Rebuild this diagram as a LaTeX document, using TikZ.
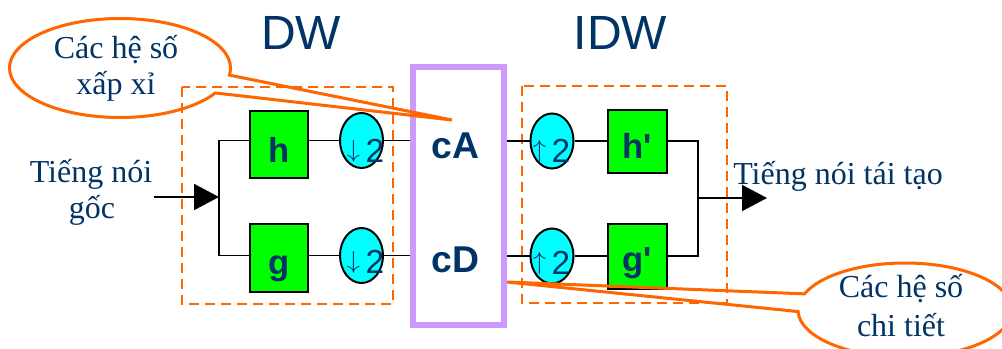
\documentclass[tikz,border=0pt]{standalone}
\usepackage{fontspec}
\usepackage{graphicx}
\setmainfont{Liberation Serif}
\setsansfont{Liberation Sans}
\usetikzlibrary{arrows.meta,shapes.geometric,shapes.callouts}
\definecolor{navy}{HTML}{003366}
\definecolor{fgreen}{HTML}{00FF00}
\definecolor{fcyan}{HTML}{00FFFF}
\definecolor{orng}{HTML}{FF6600}
\definecolor{lilac}{HTML}{CC99FF}
\newcommand{\dnarrow}{\raisebox{3.6pt}{\resizebox*{10pt}{16.5pt}{$\downarrow$}}}
\newcommand{\uparr}{\raisebox{3.6pt}{\resizebox*{10pt}{16.5pt}{$\uparrow$}}}
\tikzset{
  filt/.style={rectangle, draw=black, line width=1.5pt, fill=fgreen, minimum width=44pt, inner sep=0pt},
  samp/.style={ellipse, draw=black, line width=1.5pt, fill=fcyan, minimum width=32.25pt, minimum height=41.25pt, inner sep=0pt},
  wire/.style={draw=black, line width=1.3pt},
  arr/.style={-{Triangle[length=18.75pt,width=19.5pt]}},
  frame/.style={draw=orng, line width=1.5pt, dash pattern=on 7.5pt off 4.5pt},
  bubble/.style={ellipse callout, draw=orng, line width=2.25pt, inner sep=0pt, callout pointer arc=22},
  sertext/.style={text=navy, font=\fontsize{24}{27}\selectfont, inner sep=0pt, anchor=base},
  title/.style={text=navy, font=\sffamily\fontsize{36}{36}\selectfont, inner sep=0pt, anchor=base},
  coef/.style={text=navy, font=\sffamily\bfseries\fontsize{28}{28}\selectfont, inner sep=0pt, anchor=base},
  flt/.style={text=navy, font=\sffamily\bfseries\fontsize{26}{26}\selectfont, inner sep=0pt, anchor=base},
  rate/.style={text=navy, font=\sffamily\fontsize{25}{25}\selectfont, inner sep=0pt, anchor=base}
}
\begin{document}
\begin{tikzpicture}[x=0.75pt,y=-0.75pt]
\useasboundingbox[fill=white] (0,0) rectangle (1002,349);

% dashed frames
\draw[frame] (182,87) rectangle (393,304);
\draw[frame] (522,86) rectangle (727,303);

% blocks
\node[filt, minimum height=49.5pt] (hbox) at (279,144.5) {};
\node[filt, minimum height=51pt] (gbox) at (279,258) {};
\node[samp] (dA) at (361.5,140.5) {};
\node[samp] (dD) at (361.5,255.5) {};
\node[rectangle, draw=lilac, line width=4.5pt, minimum width=67.9pt, minimum height=192.75pt, inner sep=0pt] (coefs) at (458.75,196) {};
\node[samp] (uA) at (552,141) {};
\node[samp] (uD) at (552,256) {};
\node[filt, minimum height=47.25pt] (hpbox) at (637.5,141.5) {};
\node[filt, minimum height=48.75pt] (gpbox) at (637.5,256.5) {};

% wires
\coordinate (in) at (154,197);
\coordinate (split) at (219,197);
\coordinate (join) at (698,198);
\coordinate (outp) at (767,198);
\draw[wire] (split |- dA) -- (split |- dD);
\draw[wire] (split |- dA) -- (hbox.west |- dA);
\draw[wire] (split |- dD) -- (gbox.west |- dD);
\draw[wire] (hbox.east |- dA) -- (dA.west);
\draw[wire] (gbox.east |- dD) -- (dD.west);
\draw[wire] (dA.east) -- (dA.east -| coefs.west);
\draw[wire] (dD.east) -- (dD.east -| coefs.west);
\draw[wire] (uA.west -| coefs.east) -- (uA.west);
\draw[wire] (uD.west -| coefs.east) -- (uD.west);
\draw[wire] (uA.east) -- (hpbox.west |- uA);
\draw[wire] (uD.east) -- (gpbox.west |- uD);
\draw[wire] (hpbox.east |- uA) -- (join |- uA) -- (join |- uD) -- (gpbox.east |- uD);
\draw[wire, arr] (in) -- (split);
\draw[wire, arr] (join) -- (outp);

% labels
\node[flt] (lh) at (279,162) {h};
\node[flt] (lg) at (279,274) {g};
\node[flt] (lhp) at (637.5,158) {h\textquotesingle};
\node[flt] (lgp) at (637.5,271) {g\textquotesingle};
\node[rate] (rA) at (365.5,162) {\dnarrow\,2};
\node[rate] (rD) at (365.5,273) {\dnarrow\,2};
\node[rate] (qA) at (551.5,162) {\uparr\,2};
\node[rate] (qD) at (551.5,274) {\uparr\,2};
\node[coef] (cA) at (455.5,158) {cA};
\node[coef] (cD) at (455.5,272) {cD};
\node[title] (tDW) at (301,50) {DW};
\node[title] (tIDW) at (620.5,50) {IDW};
\node[sertext] (src1) at (91,182) {Tiếng nói};
\node[sertext] (src2) at (92,218) {gốc};
\node[sertext] (dst) at (838,185) {Tiếng nói tái tạo};

% callouts
\coordinate (tipL) at (452,120);
\coordinate (tipR) at (507,282);
\node[bubble, minimum width=165.75pt, minimum height=74.25pt, callout absolute pointer={(tipL)}] (calloutL) at (120,68) {};
\node[bubble, minimum width=160.5pt, minimum height=70.5pt, callout absolute pointer={(tipR)}] (calloutR) at (905,310) {};
\node[sertext] (capL1) at (116,59) {Các hệ số};
\node[sertext] (capL2) at (116,95) {xấp xỉ};
\node[sertext] (capR1) at (901,297) {Các hệ số};
\node[sertext] (capR2) at (901,336) {chi tiết};
\end{tikzpicture}
\end{document}
